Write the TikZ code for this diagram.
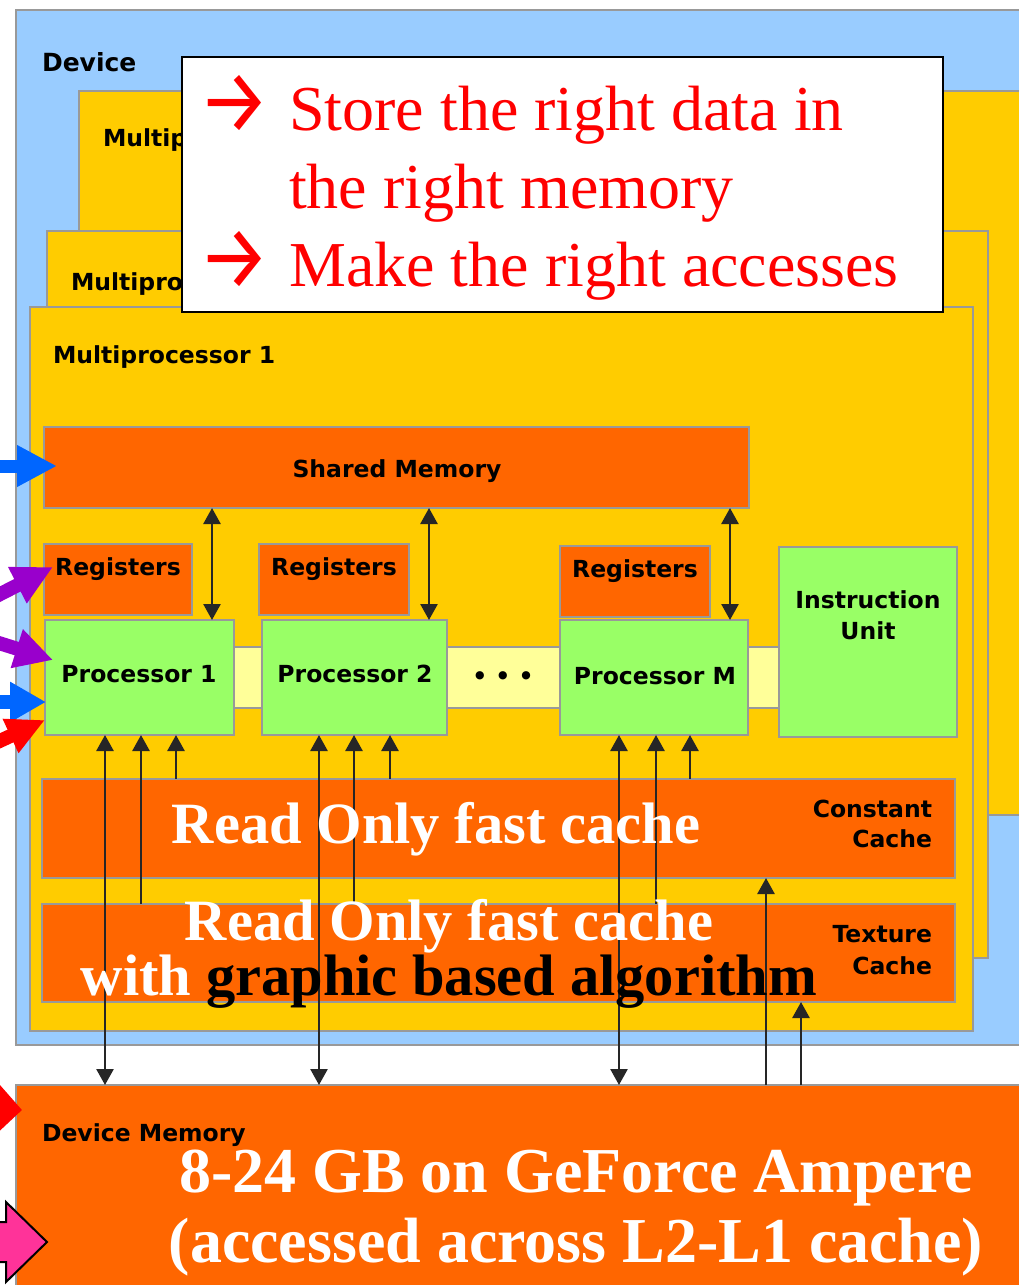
\documentclass[tikz,border=0pt]{standalone}
\usepackage{fontspec}
\usetikzlibrary{arrows.meta}
\newfontfamily\guifont{DejaVu Sans}
\newfontfamily\serifont{Liberation Serif}
\newfontfamily\arrowfont{Fira Sans}
\definecolor{devblue}{HTML}{99CCFF}
\definecolor{mpyellow}{HTML}{FFCC00}
\definecolor{memorange}{HTML}{FF6600}
\definecolor{procgreen}{HTML}{99FF66}
\definecolor{buslight}{HTML}{FFFF99}
\definecolor{edge}{HTML}{999999}
\definecolor{ptrblue}{HTML}{0066FF}
\definecolor{ptrpurple}{HTML}{9900CC}
\definecolor{ptrred}{HTML}{FF0000}
\definecolor{ptrpink}{HTML}{FF3399}
% large bullet arrow used in the advice box
\newcommand{\bigarrow}{\makebox[91pt][l]{\raisebox{-2pt}{\scalebox{1}[1.12]{\arrowfont\fontsize{80}{80}\selectfont →}}}}
\begin{document}
\begin{tikzpicture}[x=1pt,y=-1pt,
  box/.style={draw=edge, line width=2pt, inner sep=0pt, outer sep=0pt, anchor=north west},
  lbl/.style={font=\guifont\bfseries\fontsize{23.5}{28}\selectfont, inner sep=0pt, outer sep=0pt, text=black},
  note/.style={font=\serifont\fontsize{64}{78}\selectfont, text=ptrred, inner sep=0pt, anchor=base west},
  big/.style={font=\serifont\bfseries\fontsize{58.5}{49}\selectfont, text=white, inner sep=0pt, anchor=base},
  huge/.style={font=\serifont\bfseries\fontsize{64}{70}\selectfont, text=white, inner sep=0pt, anchor=base},
  link/.style={draw=black!85, line width=2.6pt, >={Triangle[length=16pt,width=17pt]}},
  fat/.style={line width=14pt},
]
\useasboundingbox (0,0) rectangle (1019,1285);

% device and the stacked multiprocessors
\node[box, fill=devblue, minimum width=1100, minimum height=1035] (dev) at (16,10) {};
\node[box, fill=mpyellow, minimum width=1100, minimum height=724] (mpN) at (79,91) {};
\node[box, fill=mpyellow, minimum width=941, minimum height=727] (mp2) at (47,231) {};
\node[box, fill=mpyellow, minimum width=943, minimum height=724] (mp1) at (30,307) {};

\node[lbl, font=\guifont\bfseries\fontsize{25}{30}\selectfont, anchor=base west] (devlbl) at (42,71) {Device};
\node[lbl, anchor=base west] (mpNlbl) at (103,146) {Multip};
\node[lbl, anchor=base west] (mp2lbl) at (71,290) {Multipro};
\node[lbl, anchor=base west] (mp1lbl) at (53,363) {Multiprocessor 1};

% shared memory and registers
\node[box, fill=memorange, minimum width=705, minimum height=81] (sm) at (44,427) {};
\node[box, fill=memorange, minimum width=148, minimum height=71] (reg1) at (44,544) {};
\node[box, fill=memorange, minimum width=150, minimum height=71] (reg2) at (259,544) {};
\node[box, fill=memorange, minimum width=150, minimum height=71] (reg3) at (560,546) {};

% bus strips between the processors
\node[box, fill=buslight, minimum width=36, minimum height=61] (bus1) at (230,647) {};
\node[box, fill=buslight, minimum width=121, minimum height=61] (bus2) at (443,647) {};
\node[box, fill=buslight, minimum width=39, minimum height=61] (bus3) at (744,647) {};

% processors and instruction unit
\node[box, fill=procgreen, minimum width=189, minimum height=115] (p1) at (45,620) {};
\node[box, fill=procgreen, minimum width=185, minimum height=115] (p2) at (262,620) {};
\node[box, fill=procgreen, minimum width=188, minimum height=115] (pM) at (560,620) {};
\node[box, fill=procgreen, minimum width=178, minimum height=190] (iu) at (779,547) {};

% caches and device memory
\node[box, fill=memorange, minimum width=913, minimum height=99] (cc) at (42,779) {};
\node[box, fill=memorange, minimum width=913, minimum height=98] (tex) at (42,904) {};
\node[box, fill=memorange, minimum width=1100, minimum height=300] (dm) at (16,1085) {};

% box labels
\node[lbl, anchor=base] (smlbl) at (397,477) {Shared Memory};
\node[lbl, anchor=base] (r1lbl) at (118,575) {Registers};
\node[lbl, anchor=base] (r2lbl) at (334,575) {Registers};
\node[lbl, anchor=base] (r3lbl) at (635,577) {Registers};
\node[lbl, anchor=base] (p1lbl) at (139,682) {Processor 1};
\node[lbl, anchor=base] (p2lbl) at (355,682) {Processor 2};
\node[lbl, anchor=base] (pMlbl) at (655,684) {Processor M};
\node[lbl, anchor=base] (dots) at (503,684) {• • •};
\node[lbl, anchor=base] (iulbl1) at (868,608) {Instruction};
\node[lbl, anchor=base] (iulbl2) at (868,639) {Unit};
\node[lbl, anchor=base east] (cclbl1) at (932,817) {Constant};
\node[lbl, anchor=base east] (cclbl2) at (932,847) {Cache};
\node[lbl, anchor=base east] (txlbl1) at (932,942) {Texture};
\node[lbl, anchor=base east] (txlbl2) at (932,974) {Cache};
\node[lbl, anchor=base west] (dmlbl) at (42,1141) {Device Memory};

% column positions of the data paths
\coordinate (xs1) at (212,0);
\coordinate (xs2) at (429,0);
\coordinate (xs3) at (730,0);
\coordinate (xm1) at (105,0);
\coordinate (xt1) at (141,0);
\coordinate (xc1) at (176,0);
\coordinate (xm2) at (319,0);
\coordinate (xt2) at (354,0);
\coordinate (xc2) at (390,0);
\coordinate (xm3) at (619,0);
\coordinate (xt3) at (656,0);
\coordinate (xc3) at (690,0);
\coordinate (xcm) at (766,0);
\coordinate (xtm) at (801,0);

% shared memory <-> processors
\draw[link,<->] (xs1 |- sm.south) -- (xs1 |- p1.north);
\draw[link,<->] (xs2 |- sm.south) -- (xs2 |- p2.north);
\draw[link,<->] (xs3 |- sm.south) -- (xs3 |- pM.north);

% caches -> processors
\draw[link,->] (xc1 |- cc.north) -- (xc1 |- p1.south);
\draw[link,->] (xc2 |- cc.north) -- (xc2 |- p2.south);
\draw[link,->] (xc3 |- cc.north) -- (xc3 |- pM.south);
\draw[link,->] (xt1 |- tex.north) -- (xt1 |- p1.south);
\draw[link,->] (xt2 |- tex.north) -- (xt2 |- p2.south);
\draw[link,->] (xt3 |- tex.north) -- (xt3 |- pM.south);

% device memory <-> processors and caches
\draw[link,<->] (xm1 |- dm.north) -- (xm1 |- p1.south);
\draw[link,<->] (xm2 |- dm.north) -- (xm2 |- p2.south);
\draw[link,<->] (xm3 |- dm.north) -- (xm3 |- pM.south);
\draw[link,->] (xcm |- dm.north) -- (xcm |- cc.south);
\draw[link,->] (xtm |- dm.north) -- (xtm |- tex.south);

% overlaid captions
\node[big] (ro1) at (436,843) {Read Only fast cache};
\node[big, align=center] (ro2) at (449,995) {Read Only fast cache\\with \textcolor{black}{graphic based algorithm}};
\node[huge] (gb1) at (576,1192) {8-24 GB on GeForce Ampere};
\node[huge] (gb2) at (576,1262) {(accessed across L2-L1 cache)};

% advice box
\node[draw=black, line width=2pt, fill=white, minimum width=761, minimum height=255, inner sep=0pt, outer sep=0pt, anchor=north west] (advice) at (182,57) {};
\node[note] (adv1) at (198,130) {\bigarrow Store the right data in};
\node[note] (adv2) at (289,208) {the right memory};
\node[note] (adv3) at (198,286) {\bigarrow Make the right accesses};

% incoming pointers on the left
\coordinate (bl1) at (-30,466);
\coordinate (pu1) at (-27,608);
\coordinate (pu2) at (-33,633);
\coordinate (bl2) at (-30,702);
\coordinate (rd1) at (-37,758);
\coordinate (rd2) at (-40,1107);
\draw[fat, line width=13pt, ptrblue, -{Triangle[length=40pt,width=39pt]}] (bl1) -- ([shift={(13,-1.5)}]sm.west);
\draw[fat, ptrpurple, -{Triangle[length=40pt,width=38pt]}] (pu1) -- ([shift={(9,23)}]reg1.north west);
\draw[fat, ptrpurple, -{Triangle[length=38pt,width=38pt]}] (pu2) -- ([shift={(8,40)}]p1.north west);
\draw[fat, ptrblue, -{Triangle[length=36pt,width=38pt]}] (bl2) -- ([shift={(1,82)}]p1.north west);
\draw[fat, ptrred, -{Triangle[length=38pt,width=35pt]}] (rd1) -- ([shift={(0,100)}]p1.north west);
\draw[fat, ptrred, -{Triangle[length=25pt,width=50pt]}] (rd2) -- ([shift={(6,25)}]dm.north west);

% block arrow into device memory
\coordinate (pktip) at ([shift={(31,157)}]dm.north west);
\draw[line width=2pt, draw=black, fill=ptrpink, line join=miter]
  (pktip) -- ++(-41,-40) -- ++(0,20) -- ++(-20,0) -- ++(0,40) -- ++(20,0) -- ++(0,20) -- cycle;
\end{tikzpicture}
\end{document}
